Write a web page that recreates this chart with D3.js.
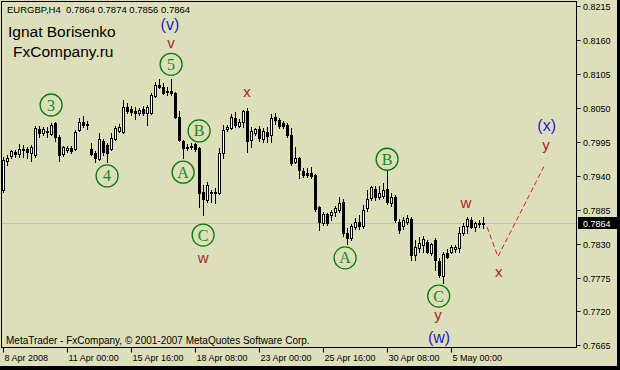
<!DOCTYPE html>
<html>
<head>
<meta charset="utf-8">
<script src="https://cdn.jsdelivr.net/npm/d3@7"></script>
<style>
  body { margin: 0; background: #000; }
  svg { display: block; }
</style>
</head>
<body>
<svg id="chart" width="620" height="370"></svg>
<script>
const symbol = "EURGBP,H4";

// H4 candles, bar 0 = 8 Apr 2008 08:00
const opens = [
  .7917,.7964,.7972,.7979,.7976,.7982,.7984,.7977,.7974,.8016,
  .8010,.8013,.8008,.8026,.8003,.7976,.7982,.7985,.7984,.8014,
  .8028,.8024,.7984,.7977,.7968,.7997,.7990,.7984,.8000,.8013,
  .8011,.8052,.8049,.8045,.8042,.8049,.8042,.8042,.8070,.8088,
  .8084,.8076,.8078,.8075,.8036,.7997,.7987,.7988,.7992,.7985,
  .7914,.7901,.7914,.7914,.7912,.7977,.8016,.8018,.8034,.8021,
  .8028,.8045,.7999,.8010,.8016,.8000,.8011,.8006,.8036,.8031,
  .8026,.8023,.8006,.7963,.7969,.7948,.7945,.7945,.7942,.7889,
  .7864,.7878,.7877,.7882,.7885,.7898,.7848,.7840,.7857,.7865,
  .7859,.7888,.7904,.7919,.7906,.7907,.7919,.7896,.7906,.7865,
  .7859,.7865,.7870,.7812,.7823,.7828,.7833,.7815,.7836,.7802,
  .7778,.7815,.7817,.7822,.7823,.7848,.7859,.7869,.7857,.7864,
  .7864
];
const highs = [
  .7971,.7974,.7982,.7982,.7992,.7990,.7987,.7990,.8021,.8021,
  .8019,.8019,.8026,.8027,.8006,.7989,.7989,.7989,.8014,.8034,
  .8037,.8029,.7993,.7980,.8010,.8000,.7993,.8010,.8021,.8024,
  .8063,.8058,.8053,.8052,.8050,.8053,.8055,.8074,.8092,.8097,
  .8091,.8084,.8097,.8076,.8045,.7998,.7992,.7993,.7993,.7987,
  .7925,.7930,.7917,.7920,.7985,.8023,.8023,.8041,.8044,.8033,
  .8047,.8050,.8020,.8018,.8021,.8018,.8019,.8041,.8042,.8034,
  .8029,.8026,.8018,.7987,.7971,.7953,.7953,.7954,.7943,.7891,
  .7882,.7880,.7885,.7891,.7906,.7903,.7856,.7862,.7872,.7877,
  .7893,.7917,.7923,.7923,.7923,.7928,.7948,.7912,.7909,.7870,
  .7874,.7877,.7874,.7836,.7841,.7843,.7836,.7831,.7839,.7807,
  .7817,.7822,.7828,.7828,.7857,.7864,.7874,.7874,.7865,.7869,
  .7874
];
const lows = [
  .7914,.7958,.7969,.7971,.7971,.7971,.7969,.7964,.7971,.8003,
  .8006,.8003,.8006,.7997,.7964,.7972,.7979,.7977,.7982,.8013,
  .8019,.8016,.7974,.7963,.7966,.7974,.7963,.7982,.7998,.8011,
  .8010,.8042,.8039,.8032,.8039,.8039,.8023,.8040,.8068,.8083,
  .8073,.8071,.8071,.8034,.7997,.7969,.7982,.7984,.7980,.7889,
  .7877,.7898,.7898,.7896,.7911,.7969,.8013,.8016,.8019,.8019,
  .8019,.7979,.7987,.8006,.7997,.7995,.7995,.7995,.8025,.8018,
  .8018,.8003,.7958,.7961,.7937,.7938,.7938,.7937,.7883,.7852,
  .7860,.7860,.7869,.7875,.7882,.7843,.7830,.7836,.7854,.7854,
  .7856,.7883,.7901,.7901,.7903,.7904,.7895,.7891,.7865,.7848,
  .7854,.7862,.7804,.7804,.7817,.7817,.7815,.7812,.7787,.7776,
  .7767,.7807,.7815,.7817,.7817,.7844,.7848,.7856,.7851,.7857,
  .7856
];
const closes = [
  .7966,.7969,.7980,.7976,.7984,.7983,.7979,.7987,.8018,.8010,
  .8016,.8012,.8023,.8003,.7974,.7987,.7985,.7980,.8012,.8028,
  .8023,.8023,.7976,.7969,.8000,.7979,.7977,.8001,.8018,.8019,
  .8052,.8045,.8044,.8042,.8047,.8042,.8052,.8071,.8088,.8084,
  .8075,.8077,.8075,.8036,.7999,.7985,.7986,.7989,.7984,.7912,
  .7903,.7925,.7912,.7913,.7977,.8015,.8019,.8036,.8023,.8028,
  .8045,.7997,.8013,.8016,.8001,.8013,.8005,.8034,.8031,.8021,
  .8021,.8006,.7961,.7969,.7950,.7942,.7942,.7940,.7886,.7866,
  .7878,.7864,.7882,.7888,.7896,.7848,.7840,.7859,.7865,.7859,
  .7885,.7903,.7922,.7906,.7912,.7917,.7898,.7906,.7869,.7852,
  .7869,.7872,.7812,.7825,.7831,.7838,.7817,.7830,.7804,.7779,
  .7813,.7809,.7825,.7825,.7848,.7859,.7870,.7857,.7864,.7863,
  .7864
];

const priceTicks = [0.8215, 0.8160, 0.8105, 0.8050, 0.7995, 0.7940, 0.7885, 0.7830, 0.7775, 0.7720, 0.7665];
const timeTickIdx = [0, 16, 32, 48, 64, 80, 96, 112];
const timeTickLabels = ["8 Apr 2008", "11 Apr 00:00", "15 Apr 16:00", "18 Apr 08:00",
                        "23 Apr 00:00", "25 Apr 16:00", "30 Apr 08:00", "5 May 00:00"];

// elliott wave marks (bar index, price)
const circleNames = ["3", "4", "5", "A", "B", "C", "A", "B", "C"];
const circleIdx   = [12.1, 26.1, 42.1, 45.1, 49.1, 50.1, 85.6, 96.1, 109];
const circlePrice = [0.8055, 0.7940, 0.8121, 0.7946, 0.8013, 0.7844, 0.7807, 0.7967, 0.7745];

const labelNames = ["(v)", "v", "w", "x", "y", "(w)", "w", "x", "(x)", "y"];
const labelIdx   = [41.8, 42.1, 50.1, 61.1, 108.8, 109.1, 115.8, 124, 136, 135.8];
const labelPrice = [0.8177, 0.8148, 0.7799, 0.8068, 0.7706, 0.7669, 0.7888, 0.7776, 0.8013, 0.7982];
const labelMinor = [false, true, true, true, true, false, true, true, false, true];

const forecastIdx   = [121.1, 123.8, 135.3];
const forecastPrice = [0.7857, 0.7809, 0.7955];

const bg = "#dcdfba";
const svg = d3.select("#chart");

svg.append("rect").attr("width", 620).attr("height", 370).attr("fill", "#000");
svg.append("rect").attr("width", 617).attr("height", 366).attr("fill", bg);

const plot = { left: 1.5, top: 1.5, right: 576.5, bottom: 347.5 };

const x = d3.scaleLinear().domain([0, 120]).range([2.7, 482.7]);
const y = d3.scaleLinear().domain([0.7665, 0.8215]).range([345.4, 6.4]);

// current price line
const last = closes.length - 1;
svg.append("line")
  .attr("x1", plot.left).attr("x2", plot.right)
  .attr("y1", Math.round(y(closes[last])) + 0.5).attr("y2", Math.round(y(closes[last])) + 0.5)
  .attr("stroke", "#bfbfbf");

// candles
const bars = d3.range(opens.length);
const g = svg.append("g");
bars.forEach(i => {
  const cx = Math.round(x(i));
  const up = closes[i] >= opens[i];
  g.append("line")
    .attr("x1", cx + 0.5).attr("x2", cx + 0.5)
    .attr("y1", Math.round(y(highs[i]))).attr("y2", Math.round(y(lows[i])) + 1)
    .attr("stroke", "#000");
  const top = Math.round(y(Math.max(opens[i], closes[i])));
  const bot = Math.round(y(Math.min(opens[i], closes[i])));
  if (up) {
    g.append("rect")
      .attr("x", cx - 0.5).attr("y", top + 0.5)
      .attr("width", 2).attr("height", Math.max(bot - top, 1))
      .attr("fill", "#fff").attr("stroke", "#000");
  } else {
    g.append("rect")
      .attr("x", cx - 1).attr("y", top)
      .attr("width", 3).attr("height", Math.max(bot - top, 1) + 1)
      .attr("fill", "#000");
  }
});

// frame
svg.append("rect")
  .attr("x", plot.left).attr("y", plot.top)
  .attr("width", plot.right - plot.left).attr("height", plot.bottom - plot.top)
  .attr("fill", "none").attr("stroke", "#000");

const axisFont = "Liberation Sans, Arial, sans-serif";

// price axis
const yAxis = svg.append("g");
priceTicks.forEach(p => {
  const py = Math.round(y(p)) + 0.5;
  yAxis.append("line").attr("x1", plot.right).attr("x2", plot.right + 4)
    .attr("y1", py).attr("y2", py).attr("stroke", "#000");
  yAxis.append("text").attr("x", 583).attr("y", py + 3.5)
    .attr("font-family", axisFont).attr("font-size", 9).attr("fill", "#000")
    .text(p.toFixed(4));
});
const cy = Math.round(y(closes[last]));
svg.append("rect").attr("x", 578).attr("y", cy - 6).attr("width", 39).attr("height", 12).attr("fill", "#000");
svg.append("text").attr("x", 583).attr("y", cy + 3.5)
  .attr("font-family", axisFont).attr("font-size", 9).attr("fill", "#fff")
  .text(closes[last].toFixed(4));

// time axis
timeTickIdx.forEach((t, k) => {
  const tx = Math.round(x(t)) + 0.5;
  svg.append("line").attr("x1", tx).attr("x2", tx)
    .attr("y1", plot.bottom).attr("y2", plot.bottom + 5).attr("stroke", "#000");
  svg.append("text").attr("x", tx + 1).attr("y", 361)
    .attr("font-family", axisFont).attr("font-size", 9).attr("fill", "#000")
    .text(timeTickLabels[k]);
});

// header + footer
svg.append("text").attr("x", 7).attr("y", 13)
  .attr("font-family", axisFont).attr("font-size", 9.5).attr("fill", "#000")
  .attr("xml:space", "preserve")
  .text(symbol + "  " + [opens[last], highs[last], lows[last], closes[last]].map(v => v.toFixed(4)).join(" "));
svg.append("text").attr("x", 6).attr("y", 344)
  .attr("font-family", axisFont).attr("font-size", 10).attr("fill", "#000")
  .text("MetaTrader - FxCompany, \u00a9 2001-2007 MetaQuotes Software Corp.");

svg.append("text").attr("x", 8).attr("y", 37)
  .attr("font-family", "Liberation Sans, Arial, sans-serif").attr("font-size", 15.5).attr("fill", "#000")
  .text("Ignat Borisenko");
svg.append("text").attr("x", 13).attr("y", 57)
  .attr("font-family", "Liberation Sans, Arial, sans-serif").attr("font-size", 15.5).attr("fill", "#000")
  .text("FxCompany.ru");

// forecast path
svg.append("path")
  .attr("d", d3.line().x(d => x(d[0])).y(d => y(d[1]))(forecastIdx.map((t, k) => [t, forecastPrice[k]])))
  .attr("fill", "none").attr("stroke", "#e8102a").attr("stroke-width", 1)
  .attr("stroke-dasharray", "5,3");

// wave circles
circleNames.forEach((n, k) => {
  const ccx = x(circleIdx[k]), ccy = y(circlePrice[k]);
  svg.append("circle").attr("cx", ccx).attr("cy", ccy).attr("r", 11)
    .attr("fill", "none").attr("stroke", "#0b7a0b").attr("stroke-width", 1.3);
  svg.append("text").attr("x", ccx).attr("y", ccy + 5.5)
    .attr("text-anchor", "middle")
    .attr("font-family", "Liberation Serif, Times New Roman, serif").attr("font-size", 16)
    .attr("fill", "#138a13").text(n);
});

// wave labels
labelNames.forEach((n, k) => {
  svg.append("text").attr("x", x(labelIdx[k])).attr("y", y(labelPrice[k]))
    .attr("text-anchor", "middle")
    .attr("font-family", "Liberation Sans, Arial, sans-serif")
    .attr("font-size", labelMinor[k] ? 15 : 16)
    .attr("fill", labelMinor[k] ? "#a82a1e" : "#2424c8")
    .text(n);
});
</script>
</body>
</html>
